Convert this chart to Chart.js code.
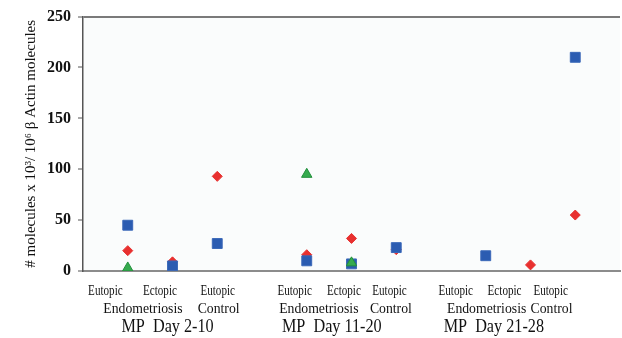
<!DOCTYPE html>
<html>
<head>
<meta charset="utf-8">
<script src="https://cdn.jsdelivr.net/npm/chart.js@4"></script>
<style>
  html, body { margin: 0; padding: 0; background: #fff; }
  #wrap { width: 622px; height: 338px; }
</style>
</head>
<body>
<div id="wrap"><canvas id="chart" width="622" height="338"></canvas></div>
<script>
// x slots (3 and 7 are the gaps between the menstrual phases)
const slots = [0, 1, 2, 4, 5, 6, 8, 9, 10];
const sampleTop = ['Eutopic', 'Ectopic', 'Eutopic'];
const sampleBottom = ['Endometriosis', 'Control'];
const periods = ['MP  Day 2-10', 'MP  Day 11-20', 'MP  Day 21-28'];
const yTicks = [0, 50, 100, 150, 200, 250];

// values (null = no mark)
const triangleVals = [3, null, null, 95, 8, null, null, null, null];
const squareVals = [45, 5, 27, 10, 7, 23, 15, null, 210];
const diamondVals = [20, 9, 93, 16, 32, 21, null, 6, 55];

function toPoints(vals) {
    return slots.map((x, i) => ({ x: x, y: vals[i] }));
}

// where the category text sits, in x units (per phase)
const topAt = [[-0.5, 0.72, 2.01], [3.73, 4.83, 5.85], [7.33, 8.42, 9.45]];
const bottomAt = [[0.34, 2.03], [4.27, 5.88], [8.02, 9.47]];
const periodAt = [0.89, 4.56, 8.18];

// light panel behind the plot
const panelBg = {
    id: 'panelBg',
    beforeDraw(chart) {
        const { ctx, chartArea: a } = chart;
        ctx.save();
        ctx.fillStyle = '#fafcfc';
        ctx.fillRect(a.left, a.top, a.right - a.left, a.bottom - a.top);
        ctx.restore();
    }
};

// category / phase labels under the axis
const xLabels = {
    id: 'xLabels',
    afterDraw(chart) {
        const ctx = chart.ctx;
        const xs = chart.scales.x;
        ctx.save();
        ctx.fillStyle = '#111';
        ctx.textAlign = 'center';
        ctx.textBaseline = 'alphabetic';

        function squished(text, px, y, font, sx) {
            ctx.save();
            ctx.font = font;
            ctx.translate(px, y);
            ctx.scale(sx, 1);
            ctx.fillText(text, 0, 0);
            ctx.restore();
        }

        periods.forEach((p, g) => {
            sampleTop.forEach((t, k) => {
                squished(t, xs.getPixelForValue(topAt[g][k]), 295, '15px "Liberation Serif"', 0.74);
            });
            sampleBottom.forEach((t, k) => {
                squished(t, xs.getPixelForValue(bottomAt[g][k]), 313, '14px "Liberation Serif"', 0.98);
            });
            squished(p, xs.getPixelForValue(periodAt[g]), 332, '18px "Liberation Serif"', 0.9);
        });
        ctx.restore();
    }
};

const ctx = document.getElementById('chart').getContext('2d');
new Chart(ctx, {
    type: 'scatter',
    data: {
        datasets: [
            {
                label: 'triangle',
                data: toPoints(triangleVals),
                pointStyle: 'triangle',
                radius: 6,
                backgroundColor: '#35ab4e',
                borderColor: '#22903c',
                borderWidth: 1
            },
            {
                label: 'square',
                data: toPoints(squareVals),
                pointStyle: 'rect',
                radius: 7,
                backgroundColor: '#2b5cb1',
                borderColor: '#3a68b8',
                borderWidth: 1
            },
            {
                label: 'diamond',
                data: toPoints(diamondVals),
                pointStyle: 'rectRot',
                radius: 5,
                backgroundColor: '#e8302f',
                borderColor: '#e8302f',
                borderWidth: 1
            }
        ]
    },
    options: {
        responsive: false,
        animation: false,
        layout: { autoPadding: false, padding: { top: 15, right: 2, left: 18, bottom: 0 } },
        plugins: {
            legend: { display: false },
            tooltip: { enabled: false }
        },
        scales: {
            x: {
                type: 'linear',
                min: -1,
                max: 11,
                ticks: { display: false },
                grid: { display: false },
                border: { display: true, color: '#8c8c8c', width: 2 },
                afterFit(scale) { scale.height = 67; }
            },
            y: {
                min: 0,
                max: 250,
                afterBuildTicks(scale) { scale.ticks = yTicks.map(v => ({ value: v })); },
                ticks: {
                    color: '#111',
                    padding: 7,
                    font: { family: '"Liberation Serif"', size: 16, weight: 'bold' }
                },
                grid: {
                    color: c => (c.tick && c.tick.value === 250 ? '#7a7a7a' : 'rgba(0,0,0,0)'),
                    lineWidth: 2,
                    tickColor: '#555',
                    tickLength: 5,
                    tickWidth: 1
                },
                border: { display: true, color: '#555', width: 1.5 },
                title: {
                    display: true,
                    text: '# molecules x 10³/ 10⁶ β Actin molecules',
                    color: '#111',
                    font: { family: '"Liberation Serif"', size: 15 }
                },
                afterFit(scale) { scale.width = 65; }
            }
        }
    },
    plugins: [panelBg, xLabels]
});
</script>
</body>
</html>
